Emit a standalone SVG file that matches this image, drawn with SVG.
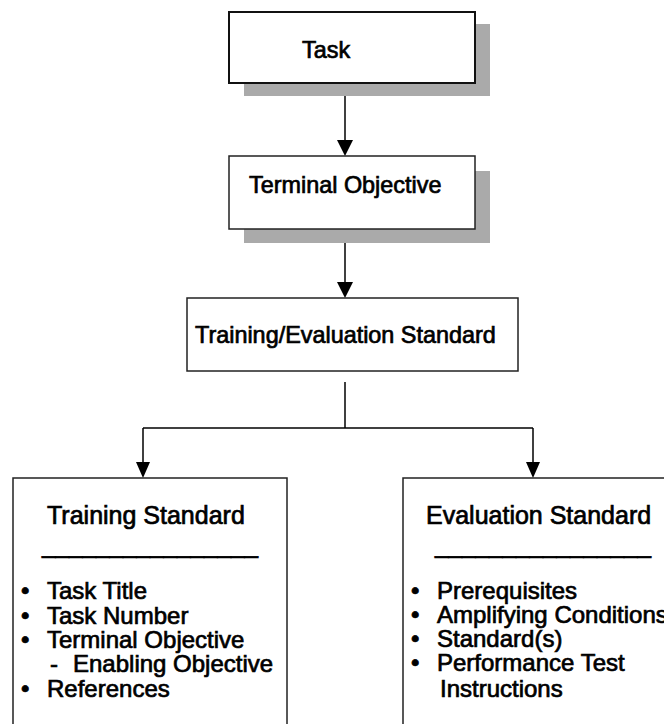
<svg xmlns="http://www.w3.org/2000/svg" width="664" height="724" viewBox="0 0 664 724">
<defs>
<style>
.box{fill:#fff;stroke:#222;stroke-width:1.5}
.shadow{fill:#aaaaaa;stroke:none}
.t{font-family:"Liberation Sans",Arial,sans-serif;fill:#000;stroke:#000;stroke-width:0.7}
.big{font-size:23.4px}
.hd{font-size:25px}
.li{font-size:24px}
.conn{stroke:#000;stroke-width:1.5;fill:none}
</style>
</defs>
<rect width="664" height="724" fill="#fff"/>
<g id="connectors">
<line class="conn" x1="345" y1="96" x2="345" y2="140"/>
<path d="M337,140 L353,140 L345,156 Z" fill="#000"/>
<line class="conn" x1="345" y1="243" x2="345" y2="282"/>
<path d="M337,282 L353,282 L345,298 Z" fill="#000"/>
<line class="conn" x1="345" y1="382" x2="345" y2="428"/>
<line class="conn" x1="143" y1="428" x2="533" y2="428"/>
<line class="conn" x1="143" y1="428" x2="143" y2="463"/>
<path d="M136,462 L150,462 L143,478 Z" fill="#000"/>
<line class="conn" x1="533" y1="428" x2="533" y2="463"/>
<path d="M526,462 L540,462 L533,478 Z" fill="#000"/>
</g>
<g id="task">
<rect class="shadow" x="244" y="24" width="246" height="72"/>
<rect class="box" x="229" y="12" width="246" height="71" style="stroke:#111;stroke-width:2"/>
<text class="t big" x="302" y="58">Task</text>
</g>
<g id="terminal-objective">
<rect class="shadow" x="244" y="171" width="246" height="72"/>
<rect class="box" x="229" y="156" width="246" height="73"/>
<text class="t big" x="249" y="193">Terminal Objective</text>
</g>
<g id="training-evaluation-standard">
<rect class="box" x="187" y="298" width="331" height="73"/>
<text class="t big" x="195" y="343">Training/Evaluation Standard</text>
</g>
<g id="training-standard">
<rect class="box" x="13" y="478" width="274" height="260"/>
<text class="t hd" x="47" y="524">Training Standard</text>
<text class="t hd" x="42" y="553" textLength="216" lengthAdjust="spacingAndGlyphs">________________</text>
<g class="t li">
<text x="21" y="599">•</text><text x="47" y="599">Task Title</text>
<text x="21" y="624">•</text><text x="47" y="624">Task Number</text>
<text x="21" y="648">•</text><text x="47" y="648">Terminal Objective</text>
<text x="50" y="672">-</text><text x="73" y="672">Enabling Objective</text>
<text x="21" y="697">•</text><text x="47" y="697">References</text>
</g>
</g>
<g id="evaluation-standard">
<rect class="box" x="403" y="478" width="300" height="260"/>
<text class="t hd" x="426" y="524">Evaluation Standard</text>
<text class="t hd" x="435" y="553" textLength="216" lengthAdjust="spacingAndGlyphs">________________</text>
<g class="t li">
<text x="411" y="599">•</text><text x="437" y="599">Prerequisites</text>
<text x="411" y="623">•</text><text x="437" y="623">Amplifying Conditions</text>
<text x="411" y="647">•</text><text x="437" y="647">Standard(s)</text>
<text x="411" y="671">•</text><text x="437" y="671">Performance Test</text>
<text x="440" y="697">Instructions</text>
</g>
</g>
</svg>
